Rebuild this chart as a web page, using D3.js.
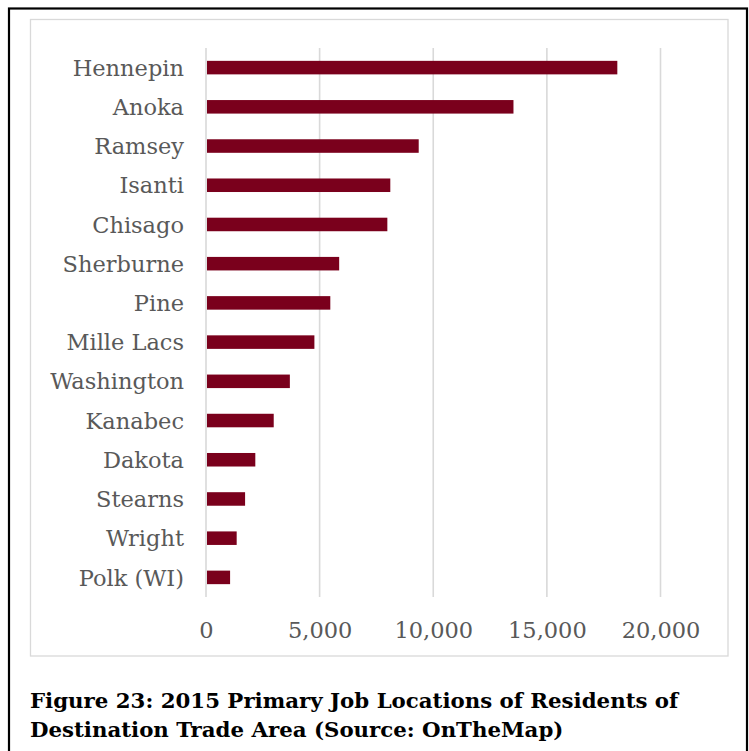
<!DOCTYPE html>
<html>
<head>
<meta charset="utf-8">
<script src="https://cdn.jsdelivr.net/npm/d3@7"></script>
<style>
  html, body { margin: 0; padding: 0; background: #fff; }
  svg { display: block; }
</style>
</head>
<body>
<svg id="chart" width="749" height="751"></svg>
<script>
// Counties where residents of the destination trade area hold primary jobs (2015)
const counties = ["Hennepin", "Anoka", "Ramsey", "Isanti", "Chisago", "Sherburne", "Pine",
  "Mille Lacs", "Washington", "Kanabec", "Dakota", "Stearns", "Wright", "Polk (WI)"];
const jobs = [18100, 13530, 9360, 8110, 7980, 5860, 5470, 4770, 3690, 2980, 2170, 1720, 1350, 1060];
const xTicks = [0, 5000, 10000, 15000, 20000];
const captionLines = [
  "Figure 23: 2015 Primary Job Locations of Residents of",
  "Destination Trade Area (Source: OnTheMap)"
];

const svg = d3.select("#chart");

// page frame
svg.append("rect")
  .attr("x", 9).attr("y", 8.5).attr("width", 738).attr("height", 760)
  .attr("fill", "none").attr("stroke", "#000").attr("stroke-width", 2.2);

// chart area border
svg.append("rect")
  .attr("x", 30.5).attr("y", 19.5).attr("width", 697.5).attr("height", 636.5)
  .attr("fill", "#fff").attr("stroke", "#d9d9d9").attr("stroke-width", 1.3);

const plot = { left: 206, right: 660.5, top: 48, bottom: 597 };

const x = d3.scaleLinear().domain([0, 20000]).range([plot.left, plot.right]);
const y = d3.scaleBand().domain(counties).range([plot.top, plot.bottom])
  .paddingInner(0.655).paddingOuter(0.3275);

// vertical gridlines
svg.append("g").selectAll("line").data(xTicks).join("line")
  .attr("x1", d => x(d)).attr("x2", d => x(d))
  .attr("y1", plot.top).attr("y2", plot.bottom)
  .attr("stroke", "#d9d9d9").attr("stroke-width", 1.6);

// bars
svg.append("g").selectAll("rect").data(counties).join("rect")
  .attr("x", x(0) + 1)
  .attr("y", d => y(d))
  .attr("width", (d, i) => x(jobs[i]) - x(0) - 1)
  .attr("height", y.bandwidth())
  .attr("fill", "#7a001c");

// x axis labels
const xAxis = d3.axisBottom(x).tickValues(xTicks).tickSize(0).tickPadding(0)
  .tickFormat(d3.format(","));
const gx = svg.append("g").attr("transform", `translate(0,${plot.bottom})`).call(xAxis);
gx.select(".domain").remove();
gx.selectAll("text")
  .attr("dy", null).attr("y", 41)
  .attr("font-family", "DejaVu Serif").attr("font-size", 22.5).attr("fill", "#595959");

// category labels
const yAxis = d3.axisLeft(y).tickSize(0).tickPadding(0);
const gy = svg.append("g").attr("transform", `translate(184,0)`).call(yAxis);
gy.select(".domain").remove();
gy.selectAll("text")
  .attr("dy", "0.36em")
  .attr("font-family", "DejaVu Serif").attr("font-size", 22.5).attr("fill", "#595959");

// caption
svg.append("g").selectAll("text").data(captionLines).join("text")
  .attr("x", 30).attr("y", (d, i) => 708 + i * 29)
  .attr("font-family", "DejaVu Serif").attr("font-weight", "bold")
  .attr("font-size", 21.3).attr("fill", "#000")
  .text(d => d);
</script>
</body>
</html>
